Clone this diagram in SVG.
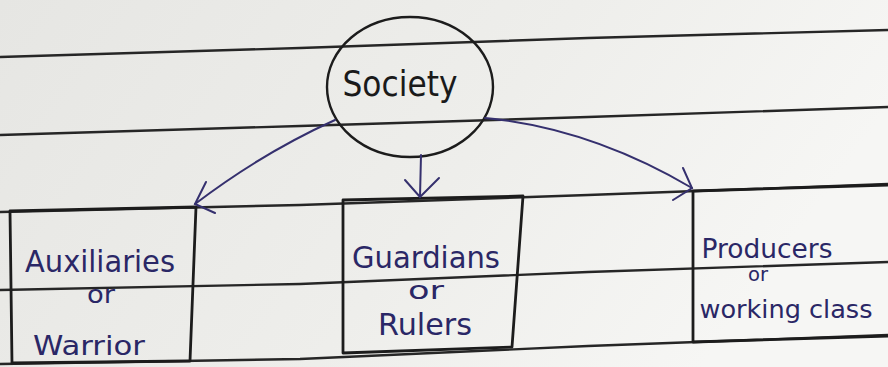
<svg xmlns="http://www.w3.org/2000/svg" width="888" height="367" viewBox="0 0 888 367">
  <defs>
    <linearGradient id="paper" x1="0" y1="0" x2="1" y2="0.3">
      <stop offset="0" stop-color="#e6e6e3"/>
      <stop offset="0.6" stop-color="#eeeeeb"/>
      <stop offset="1" stop-color="#f6f6f4"/>
    </linearGradient>
    <style>
      .rule { stroke: #262626; stroke-width: 2.4; fill: none; }
      .box { stroke: #1c1c1c; stroke-width: 2.8; fill: none; stroke-linejoin: round; }
      .ink { stroke: #35306e; stroke-width: 2; fill: none; stroke-linecap: round; }
      .label { font-family: "DejaVu Sans", "Liberation Sans", sans-serif; fill: #2a2766; }
      .soc { font-family: "DejaVu Sans", "Liberation Sans", sans-serif; fill: #1a1a1a; }
    </style>
  </defs>
  <rect x="0" y="0" width="888" height="367" fill="url(#paper)"/>

  <g id="ruled-lines">
    <path class="rule" d="M0,57 L300,48 L588,38 L888,30"/>
    <path class="rule" d="M0,135 L300,126 L588,117 L888,107"/>
    <path class="rule" d="M0,212 L300,205 L588,195 L888,184"/>
    <path class="rule" d="M0,290 L300,284 L588,272 L888,262"/>
    <path class="rule" d="M0,364 L300,359 L588,346 L888,335"/>
  </g>

  <g id="society">
    <ellipse cx="410" cy="87" rx="83" ry="70" fill="none" stroke="#1c1c1c" stroke-width="2.4"/>
    <text class="soc" x="400" y="96" font-size="36" text-anchor="middle" textLength="115" lengthAdjust="spacingAndGlyphs">Society</text>
  </g>

  <g id="auxiliaries">
    <path class="box" d="M10,211 L196,207 L190,361 L12,363 Z"/>
    <text class="label" x="100" y="272" font-size="30" text-anchor="middle" textLength="150" lengthAdjust="spacingAndGlyphs">Auxiliaries</text>
    <text class="label" x="101" y="303" font-size="24" text-anchor="middle" textLength="28" lengthAdjust="spacingAndGlyphs">or</text>
    <text class="label" x="89" y="355" font-size="27" text-anchor="middle" textLength="112" lengthAdjust="spacingAndGlyphs">Warrior</text>
  </g>

  <g id="guardians">
    <path class="box" d="M343,200 L523,196 L512,347 L343,353 Z"/>
    <text class="label" x="426" y="268" font-size="30" text-anchor="middle" textLength="148" lengthAdjust="spacingAndGlyphs">Guardians</text>
    <text class="label" x="426" y="299" font-size="24" text-anchor="middle" textLength="36" lengthAdjust="spacingAndGlyphs">or</text>
    <text class="label" x="425" y="335" font-size="30" text-anchor="middle" textLength="94" lengthAdjust="spacingAndGlyphs">Rulers</text>
  </g>

  <g id="producers">
    <path class="box" d="M888,185 L693,191 L693,342 L888,336"/>
    <text class="label" x="767" y="258" font-size="26" text-anchor="middle" textLength="131" lengthAdjust="spacingAndGlyphs">Producers</text>
    <text class="label" x="758" y="281" font-size="20" text-anchor="middle" textLength="20" lengthAdjust="spacingAndGlyphs">or</text>
    <text class="label" x="786" y="318" font-size="24" text-anchor="middle" textLength="173" lengthAdjust="spacingAndGlyphs">working class</text>
  </g>

  <g id="connectors">
    <path class="ink" d="M335,120 Q262,153 195,204"/>
    <path class="ink" d="M206,182 L195,204 L215,213"/>
    <path class="ink" d="M421,155 L420,197"/>
    <path class="ink" d="M405,180 L420,197 L439,178"/>
    <path class="ink" d="M485,118 Q590,128 692,188"/>
    <path class="ink" d="M683,168 L692,188 L673,200"/>
  </g>
</svg>
